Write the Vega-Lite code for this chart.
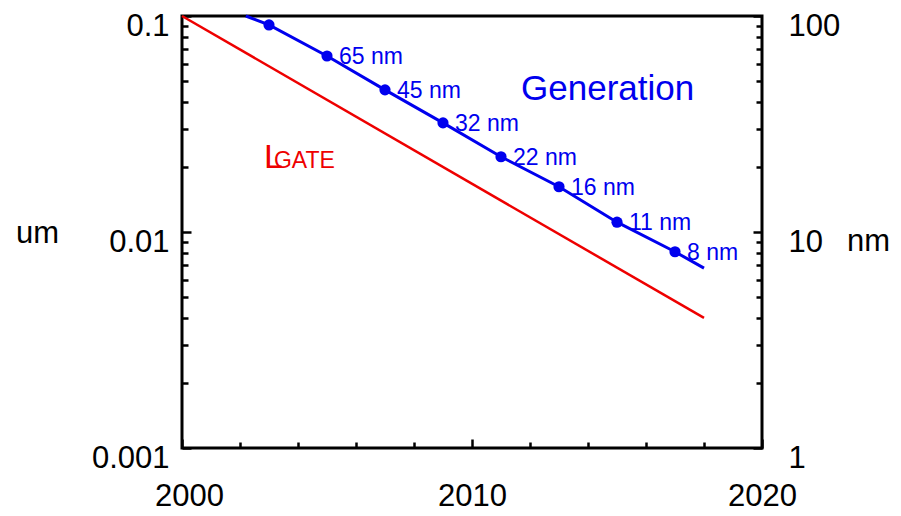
{
  "$schema": "https://vega.github.io/schema/vega-lite/v6.json",
  "width": 580,
  "height": 432,
  "autosize": "none",
  "padding": {"left": 182, "top": 16, "right": 139, "bottom": 68},
  "background": "white",
  "config": {
    "view": {"stroke": "black", "strokeWidth": 3},
    "axis": {"grid": false, "domain": false, "labelFont": "Liberation Sans", "titleFont": "Liberation Sans", "labelFontSize": 31, "titleFontSize": 31, "titleFontWeight": "normal", "labelColor": "black", "titleColor": "black", "tickColor": "black", "tickWidth": 2.5},
    "text": {"font": "Liberation Sans"}
  },
  "datasets": {
    "red": [{"year": 2000, "nm": 100}, {"year": 2018, "nm": 4.0}],
    "blueline": [
      {"year": 2002.2, "nm": 100},
      {"year": 2003, "nm": 90.9},
      {"year": 2005, "nm": 65.3},
      {"year": 2007, "nm": 45.5},
      {"year": 2009, "nm": 32.0},
      {"year": 2011, "nm": 22.3},
      {"year": 2013, "nm": 16.2},
      {"year": 2015, "nm": 11.1},
      {"year": 2017, "nm": 8.1},
      {"year": 2018, "nm": 6.8}
    ],
    "dots": [
      {"year": 2003, "nm": 90.9, "label": ""},
      {"year": 2005, "nm": 65.3, "label": "65 nm"},
      {"year": 2007, "nm": 45.5, "label": "45 nm"},
      {"year": 2009, "nm": 32.0, "label": "32 nm"},
      {"year": 2011, "nm": 22.3, "label": "22 nm"},
      {"year": 2013, "nm": 16.2, "label": "16 nm"},
      {"year": 2015, "nm": 11.1, "label": "11 nm"},
      {"year": 2017, "nm": 8.1, "label": "8 nm"}
    ],
    "gen": [{"year": 2011.69, "nm": 40.8, "label": "Generation"}],
    "lbig": [{"year": 2002.83, "nm": 19.8, "label": "L"}],
    "lsmall": [{"year": 2003.17, "nm": 19.8, "label": "GATE"}]
  },
  "resolve": {"scale": {"y": "independent"}, "axis": {"y": "independent"}},
  "layer": [
    {
      "data": {"name": "red"},
      "mark": {"type": "line", "color": "#ee0000", "strokeWidth": 2.5},
      "encoding": {
        "x": {"field": "year", "type": "quantitative", "scale": {"domain": [2000, 2020], "nice": false, "zero": false},
          "axis": {"orient": "bottom", "title": null, "values": [2000, 2002, 2004, 2006, 2008, 2010, 2012, 2014, 2016, 2018, 2020],
            "labelExpr": "datum.value % 10 == 0 ? datum.value + '' : ''",
            "tickSize": {"condition": {"test": "datum.value % 10 == 0", "value": -9}, "value": -6},
            "labelOffset": {"condition": {"test": "datum.value == 2000", "value": 7}, "value": 0},
            "labelPadding": 66, "labelBaseline": "alphabetic", "labelFlush": false, "labelOverlap": false}},
        "y": {"field": "nm", "type": "quantitative", "scale": {"type": "log", "domain": [1, 100], "nice": false},
          "axis": {"orient": "left", "values": [1, 2, 3, 4, 5, 6, 7, 8, 9, 10, 20, 30, 40, 50, 60, 70, 80, 90, 100],
            "labelExpr": "datum.value == 1 ? '0.001' : datum.value == 10 ? '0.01' : datum.value == 100 ? '0.1' : ''",
            "tickSize": {"condition": {"test": "datum.value == 1 || datum.value == 10 || datum.value == 100", "value": -9}, "value": -6},
            "labelPadding": 22, "labelBaseline": "alphabetic", "labelOffset": 19, "labelFlush": false, "labelOverlap": false,
            "title": "um", "titleAngle": 0, "titleX": -145, "titleY": 226, "titleAlign": "center", "titleBaseline": "alphabetic"}}
      }
    },
    {
      "data": {"name": "blueline"},
      "mark": {"type": "line", "color": "#0000ee", "strokeWidth": 3},
      "encoding": {
        "x": {"field": "year", "type": "quantitative"},
        "y": {"field": "nm", "type": "quantitative", "scale": {"type": "log", "domain": [1, 100], "nice": false},
          "axis": {"orient": "right", "values": [1, 2, 3, 4, 5, 6, 7, 8, 9, 10, 20, 30, 40, 50, 60, 70, 80, 90, 100],
            "labelExpr": "datum.value == 1 || datum.value == 10 || datum.value == 100 ? datum.value + '' : ''",
            "tickSize": {"condition": {"test": "datum.value == 1 || datum.value == 10 || datum.value == 100", "value": -9}, "value": -6},
            "labelPadding": 35, "labelBaseline": "alphabetic", "labelOffset": 19, "labelFlush": false, "labelOverlap": false,
            "title": "nm", "titleAngle": 0, "titleX": 106, "titleY": 234, "titleAlign": "center", "titleBaseline": "alphabetic"}}
      }
    },
    {
      "data": {"name": "dots"},
      "mark": {"type": "circle", "color": "#0000ee", "size": 125, "opacity": 1},
      "encoding": {
        "x": {"field": "year", "type": "quantitative"},
        "y": {"field": "nm", "type": "quantitative", "scale": {"type": "log", "domain": [1, 100], "nice": false}, "axis": null}
      }
    },
    {
      "data": {"name": "dots"},
      "mark": {"type": "text", "color": "#0000ee", "fontSize": 23, "align": "left", "baseline": "middle", "dx": 12, "dy": 1},
      "encoding": {
        "x": {"field": "year", "type": "quantitative"},
        "y": {"field": "nm", "type": "quantitative", "scale": {"type": "log", "domain": [1, 100], "nice": false}, "axis": null},
        "text": {"field": "label"}
      }
    },
    {
      "data": {"name": "gen"},
      "mark": {"type": "text", "color": "#0000ee", "fontSize": 35, "align": "left", "baseline": "alphabetic"},
      "encoding": {
        "x": {"field": "year", "type": "quantitative"},
        "y": {"field": "nm", "type": "quantitative", "scale": {"type": "log", "domain": [1, 100], "nice": false}, "axis": null},
        "text": {"field": "label"}
      }
    },
    {
      "data": {"name": "lbig"},
      "mark": {"type": "text", "color": "#ee0000", "fontSize": 34, "align": "left", "baseline": "alphabetic"},
      "encoding": {
        "x": {"field": "year", "type": "quantitative"},
        "y": {"field": "nm", "type": "quantitative", "scale": {"type": "log", "domain": [1, 100], "nice": false}, "axis": null},
        "text": {"field": "label"}
      }
    },
    {
      "data": {"name": "lsmall"},
      "mark": {"type": "text", "color": "#ee0000", "fontSize": 23, "align": "left", "baseline": "alphabetic"},
      "encoding": {
        "x": {"field": "year", "type": "quantitative"},
        "y": {"field": "nm", "type": "quantitative", "scale": {"type": "log", "domain": [1, 100], "nice": false}, "axis": null},
        "text": {"field": "label"}
      }
    }
  ]
}
